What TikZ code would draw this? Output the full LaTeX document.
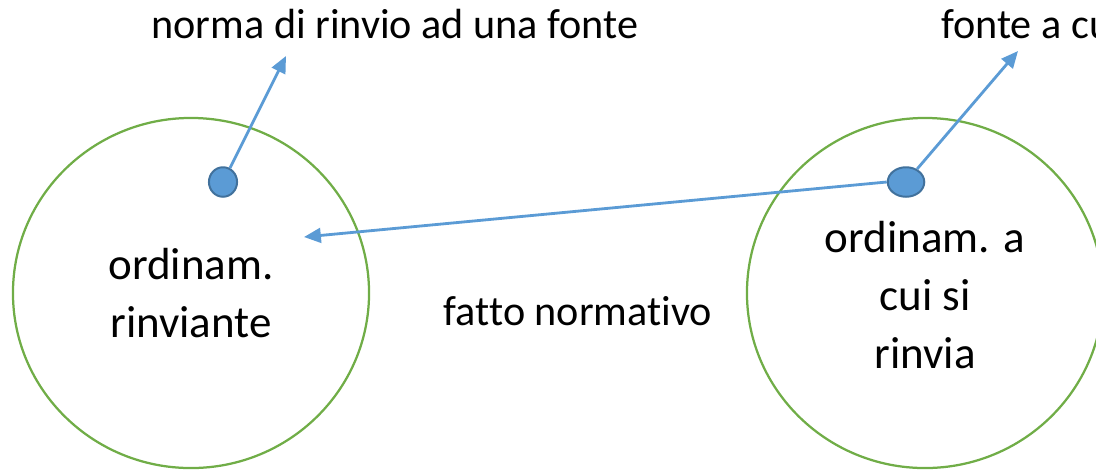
\documentclass[tikz,border=0pt]{standalone}
\usepackage{fontspec}
\setmainfont{Carlito}[Ligatures=NoCommon]
\usetikzlibrary{arrows.meta,shapes.geometric}

\definecolor{ordgreen}{RGB}{112,173,71}
\definecolor{rinvblue}{RGB}{91,155,213}
\definecolor{rinvdark}{RGB}{65,113,156}

\begin{document}
\begin{tikzpicture}[x=0.025cm,y=-0.025cm,
        ordin/.style={draw=ordgreen,line width=1.6pt},
        fontedot/.style={ellipse,draw=rinvdark,fill=rinvblue,line width=1.4pt,inner sep=0pt},
        rinvio/.style={draw=rinvblue,line width=2pt,-{Triangle[length=12pt,width=10.5pt]}},
        label/.style={inner sep=0pt,font=\fontsize{30}{36}\selectfont},
        incirc/.style={inner sep=0pt,align=center,font=\fontsize{32}{41}\selectfont}]

    \clip (0,0) rectangle (1096,469);

    % i due ordinamenti
    \draw[ordin] (191,293) ellipse (4.45cm and 4.375cm);
    \draw[ordin] (925,293) ellipse (4.45cm and 4.375cm);

    \node[incirc] (rinviante) at (191,293) {ordinam.\\rinviante};
    \node[incirc] (ricevente) at (925,295) {ordinam. a\\cui si\\rinvia};
    \node[label,anchor=base] (fatto) at (578,325) {fatto normativo};

    \node[label,anchor=base] (norma) at (395,38) {norma di rinvio ad una fonte};
    \node[label,anchor=base west] (fonte) at (941,38) {fonte a cui si rinvia};

    % punti e rinvii
    \node[fontedot,minimum width=20pt,minimum height=21pt] (dotL) at (223,182) {};
    \node[fontedot,minimum width=26pt,minimum height=21pt] (dotR) at (906,182) {};

    \coordinate (tipL) at (286,56);
    \coordinate (tipR) at (1018,51);
    \coordinate (tipM) at (304,237);

    \draw[rinvio] (dotL) -- (tipL);
    \draw[rinvio] (dotR) -- (tipR);
    \draw[rinvio] (dotR.west) -- (tipM);
\end{tikzpicture}
\end{document}
